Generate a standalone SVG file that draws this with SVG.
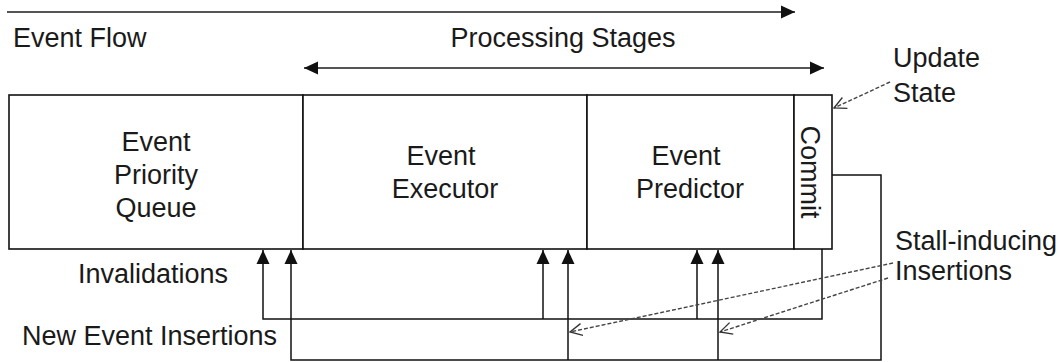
<svg xmlns="http://www.w3.org/2000/svg" width="1060" height="362" viewBox="0 0 1060 362">
  <defs>
    <marker id="solid" markerUnits="userSpaceOnUse" markerWidth="16" markerHeight="16" viewBox="0 0 16 16" refX="14" refY="8" orient="auto-start-reverse">
      <path d="M0,1.5 L14,8 L0,14.5 Z" fill="#111"/>
    </marker>
    <marker id="open" markerUnits="userSpaceOnUse" markerWidth="16" markerHeight="16" viewBox="0 0 16 16" refX="15" refY="8" orient="auto">
      <path d="M3,2 L15,8 L3,14" fill="none" stroke="#333" stroke-width="1.3"/>
    </marker>
    <style>
      text { font-family: "Liberation Sans", Arial, sans-serif; font-size: 27px; fill: #1a1a1a; }
      .mid { text-anchor: middle; }
      .stage { fill: #fff; stroke: #111; stroke-width: 1.6; }
      .flow { fill: none; stroke: #555; stroke-width: 2.2; }
      .wire { fill: none; stroke: #111; stroke-width: 1.5; }
      .dash { fill: none; stroke: #444; stroke-width: 1.4; stroke-dasharray: 4 2; }
    </style>
  </defs>

  <!-- overall flow and stage span -->
  <g id="annotations">
    <line class="flow" x1="7" y1="12" x2="795" y2="12" marker-end="url(#solid)"/>
    <text x="13" y="47">Event Flow</text>
    <text class="mid" x="563" y="47">Processing Stages</text>
    <line class="flow" x1="304" y1="68" x2="824" y2="68" marker-start="url(#solid)" marker-end="url(#solid)"/>
    <text x="893" y="67">Update</text>
    <text x="893" y="102">State</text>
    <text x="78" y="283">Invalidations</text>
    <text x="22" y="345">New Event Insertions</text>
    <text x="895" y="250">Stall-inducing</text>
    <text x="895" y="280">Insertions</text>
  </g>

  <!-- pipeline stages -->
  <g id="priority-queue">
    <rect class="stage" x="9" y="95" width="294" height="154"/>
    <text class="mid" x="156" y="151">Event</text>
    <text class="mid" x="156" y="184">Priority</text>
    <text class="mid" x="156" y="217">Queue</text>
  </g>
  <g id="executor">
    <rect class="stage" x="303" y="95" width="284" height="154"/>
    <text class="mid" x="441" y="165">Event</text>
    <text class="mid" x="445" y="198">Executor</text>
  </g>
  <g id="predictor">
    <rect class="stage" x="587" y="95" width="207" height="154"/>
    <text class="mid" x="686" y="165">Event</text>
    <text class="mid" x="690" y="198">Predictor</text>
  </g>
  <g id="commit">
    <rect class="stage" x="794" y="95" width="38" height="154"/>
    <text class="mid" transform="translate(801,172) rotate(90)">Commit</text>
  </g>

  <!-- feedback paths -->
  <g id="connectors">
    <path class="wire" d="M822,249 V319 H263 V250" marker-end="url(#solid)"/>
    <path class="wire" d="M543,319 V250" marker-end="url(#solid)"/>
    <path class="wire" d="M697,319 V250" marker-end="url(#solid)"/>
    <path class="wire" d="M832,175 H881 V360 H291 V250" marker-end="url(#solid)"/>
    <path class="wire" d="M568,360 V250" marker-end="url(#solid)"/>
    <path class="wire" d="M718,360 V250" marker-end="url(#solid)"/>
    <line class="dash" x1="890" y1="82" x2="834" y2="108" marker-end="url(#open)"/>
    <line class="dash" x1="893" y1="263" x2="570" y2="332" marker-end="url(#open)"/>
    <line class="dash" x1="888" y1="278" x2="720" y2="332" marker-end="url(#open)"/>
  </g>
</svg>
